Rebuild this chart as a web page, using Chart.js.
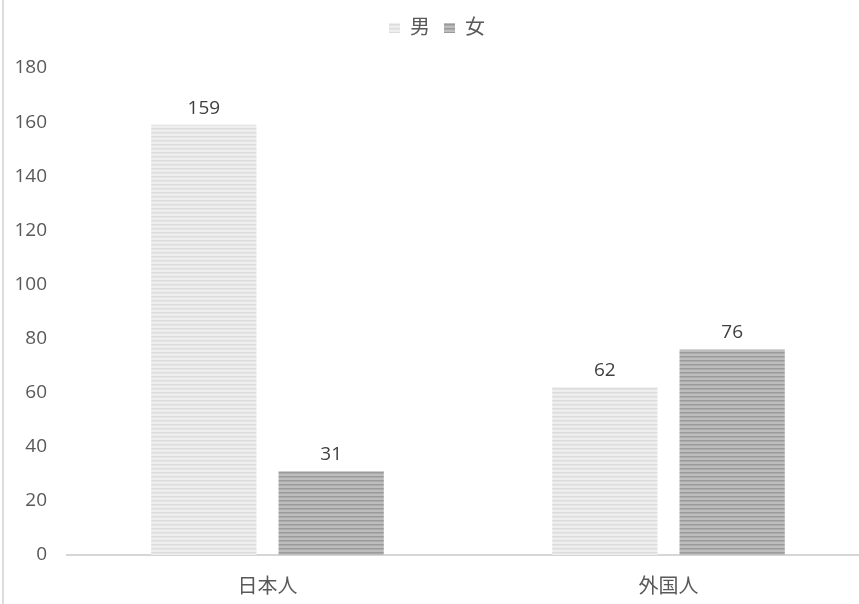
<!DOCTYPE html>
<html>
<head>
<meta charset="utf-8">
<script src="https://cdn.jsdelivr.net/npm/chart.js@4"></script>
<style>
  html, body { margin: 0; padding: 0; background: #fff; overflow: hidden; }
  #wrap { position: relative; width: 872px; height: 604px; }
  #edge { position: absolute; left: 2px; top: 0; width: 2px; height: 604px; background: #dcdcdc; z-index: 2; }
</style>
</head>
<body>
<div id="wrap">
  <div id="edge"></div>
  <canvas id="myChart" width="872" height="604"></canvas>
</div>
<script>
const categories = ['日本人', '外国人']
const seriesNames = ['男', '女']
const maleValues = [159, 62]
const femaleValues = [31, 76]
const yTicks = [0, 20, 40, 60, 80, 100, 120, 140, 160, 180]

function stripes(base, line) {
    const c = document.createElement('canvas')
    c.width = 4
    c.height = 4
    const g = c.getContext('2d')
    g.fillStyle = base
    g.fillRect(0, 0, 4, 4)
    g.fillStyle = line
    g.fillRect(0, 0, 4, 1.5)
    return g.createPattern(c, 'repeat')
}

const labelFont = "'Open Sans', 'Noto Sans CJK JP', sans-serif"

// values above bars
const valueLabels = {
    id: 'valueLabels',
    afterDatasetsDraw(chart) {
        const ctx = chart.ctx
        ctx.save()
        ctx.font = '19px ' + labelFont
        ctx.fillStyle = '#404040'
        ctx.textAlign = 'center'
        ctx.textBaseline = 'alphabetic'
        chart.data.datasets.forEach((ds, i) => {
            chart.getDatasetMeta(i).data.forEach((bar, j) => {
                ctx.fillText(ds.data[j], bar.x, bar.y - 11)
            })
        })
        ctx.restore()
    }
}

// extra room under the legend
const legendGap = {
    id: 'legendGap',
    beforeInit(chart) {
        const fit = chart.legend.fit
        chart.legend.fit = function () {
            fit.bind(chart.legend)()
            this.height += 20
        }
    }
}

const ctx = document.getElementById('myChart')

new Chart(ctx, {
    type: 'bar',
    data: {
        labels: categories,
        datasets: [
            {
                label: seriesNames[0],
                data: maleValues,
                backgroundColor: stripes('#eeeeee', '#dcdcdc')
            },
            {
                label: seriesNames[1],
                data: femaleValues,
                backgroundColor: stripes('#bdbdbd', '#9a9a9a')
            }
        ]
    },
    options: {
        responsive: false,
        animation: false,
        devicePixelRatio: 1,
        categoryPercentage: 0.635,
        barPercentage: 0.827,
        layout: {
            padding: { left: 5, right: 3, top: 4, bottom: 0 }
        },
        plugins: {
            legend: {
                position: 'top',
                labels: {
                    boxWidth: 11,
                    boxHeight: 10,
                    padding: 14,
                    color: '#595959',
                    font: { size: 20, family: labelFont }
                }
            },
            tooltip: { enabled: false }
        },
        scales: {
            x: {
                grid: { display: false },
                border: { color: '#d6d6d6', width: 2 },
                afterFit(axis) {
                    axis.height = 49
                },
                ticks: {
                    color: '#595959',
                    padding: 12,
                    font: { size: 20, family: labelFont }
                }
            },
            y: {
                min: 0,
                max: 180,
                afterBuildTicks(axis) {
                    axis.ticks = yTicks.map(v => ({ value: v }))
                },
                afterFit(axis) {
                    axis.width = 62
                },
                grid: { display: false },
                border: { display: false },
                ticks: {
                    color: '#595959',
                    padding: 12,
                    font: { size: 19, family: labelFont }
                }
            }
        }
    },
    plugins: [valueLabels, legendGap]
})
</script>
</body>
</html>
